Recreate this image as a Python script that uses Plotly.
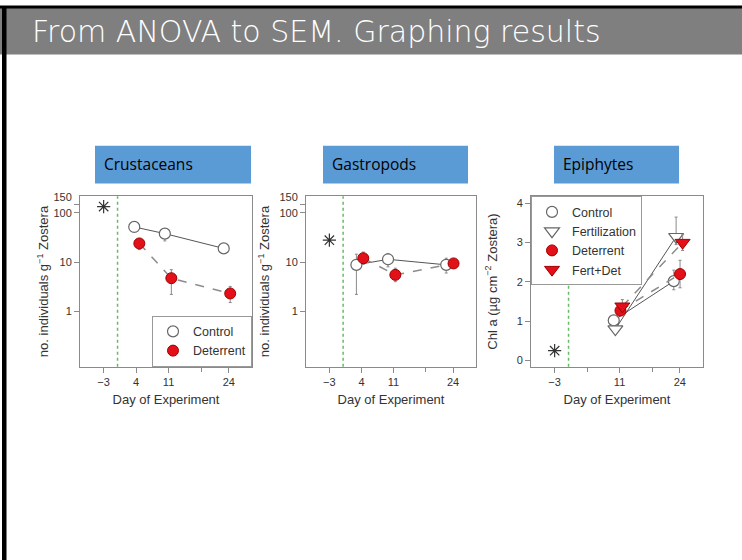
import plotly.graph_objects as go

# ---------------- data ----------------
tick_days_log = [-3, 4, 11, 24]
tick_text_log = ["\u22123", "4", "11", "24"]
minor_days_log = [18]
tick_days_epi = [-3, 11, 24]
tick_text_epi = ["\u22123", "11", "24"]
minor_days_epi = [4, 18]
treatment_start_day = 0
pre_day = [-3]

log_tickvals = [1, 10, 100, 150]
log_ticktext = ["1", "10", "100", "150<br>&nbsp;"]
lin_tickvals = [0, 1, 2, 3, 4]

# Crustaceans
crus_pre = [135]
crus_ctrl_x = [3.6, 10.2, 22.9]
crus_ctrl_y = [52, 38, 19]
crus_ctrl_hi = [57, 46, 21]
crus_ctrl_lo = [47, 27, 17]
crus_det_x = [4.7, 11.6, 24.3]
crus_det_y = [24, 4.7, 2.3]
crus_det_hi = [30, 7.0, 3.2]
crus_det_lo = [18, 2.2, 1.5]

# Gastropods
gast_pre = [28]
gast_ctrl_x = [2.9, 9.8, 22.5]
gast_ctrl_y = [8.8, 11.4, 8.8]
gast_ctrl_hi = [14.5, 15, 12]
gast_ctrl_lo = [2.2, 8, 6]
gast_det_x = [4.4, 11.4, 24.1]
gast_det_y = [12, 5.5, 9.4]
gast_det_hi = [16, 7.5, 10.5]
gast_det_lo = [9, 4, 8.5]

# Epiphytes
epi_pre = [0.25]
epi_ctrl_x = [9.75, 22.7]
epi_ctrl_y = [1.02, 2.02]
epi_ctrl_hi = [1.07, 2.3]
epi_ctrl_lo = [0.97, 1.8]
epi_fert_x = [10.1, 23.2]
epi_fert_y = [0.80, 3.15]
epi_fert_hi = [0.85, 3.65]
epi_fert_lo = [0.75, 2.95]
epi_det_x = [11.2, 24.05]
epi_det_y = [1.27, 2.2]
epi_det_hi = [1.40, 2.55]
epi_det_lo = [1.15, 1.85]
epi_fd_x = [11.6, 24.6]
epi_fd_y = [1.38, 3.0]
epi_fd_hi = [1.55, 3.2]
epi_fd_lo = [1.30, 2.8]

panel_titles = ["Crustaceans", "Gastropods", "Epiphytes"]
slide_title = "From ANOVA to SEM. Graphing results"

# ---------------- styling ----------------
W, H = 742, 560
FONT = "Liberation Sans, Arial, sans-serif"
RED = "#e3101a"
GREY_LINE = "#555555"
ERR = "#8a8a8a"


def px(x):
    return x / W


def py(y):
    return 1 - y / H


def err(y, hi, lo):
    return dict(type="data", symmetric=False,
                array=[h - v for v, h in zip(y, hi)],
                arrayminus=[v - l for v, l in zip(y, lo)],
                color=ERR, thickness=1, width=1.5)


open_circle = dict(symbol="circle", size=11, color="white",
                   line=dict(color="#666666", width=1.2))
red_circle = dict(symbol="circle", size=11, color=RED,
                  line=dict(color="#a00000", width=1))
open_tri = dict(symbol="triangle-down", size=13, color="white",
                line=dict(color="#666666", width=1.2))
red_tri = dict(symbol="triangle-down", size=13, color=RED,
               line=dict(color="#a00000", width=1))
solid_line = dict(color=GREY_LINE, width=1)
dash_line = dict(color="#8c8c8c", width=1.5, dash="dash")

fig = go.Figure()


def add_series(xa, ya, x, y, hi, lo, marker, line, name, legend, showlegend):
    fig.add_trace(go.Scatter(x=x, y=y, mode="lines", line=line,
                             xaxis=xa, yaxis=ya, showlegend=False,
                             hoverinfo="skip"))
    fig.add_trace(go.Scatter(x=x, y=y, mode="markers", marker=marker,
                             error_y=err(y, hi, lo), name=name,
                             xaxis=xa, yaxis=ya, legend=legend,
                             showlegend=showlegend))


def add_pre(xa, ya, yv):
    fig.add_trace(go.Scatter(x=pre_day, y=yv, mode="markers",
                             marker=dict(symbol="asterisk-open", size=11,
                                         color="#333333",
                                         line=dict(color="#333333", width=1.2)),
                             xaxis=xa, yaxis=ya, showlegend=False))


# panel 1
add_pre("x", "y", crus_pre)
add_series("x", "y", crus_ctrl_x, crus_ctrl_y, crus_ctrl_hi, crus_ctrl_lo,
           open_circle, solid_line, "Control", "legend", True)
add_series("x", "y", crus_det_x, crus_det_y, crus_det_hi, crus_det_lo,
           red_circle, dash_line, "Deterrent", "legend", True)
# panel 2
add_pre("x2", "y2", gast_pre)
add_series("x2", "y2", gast_ctrl_x, gast_ctrl_y, gast_ctrl_hi, gast_ctrl_lo,
           open_circle, solid_line, "Control", "legend", False)
add_series("x2", "y2", gast_det_x, gast_det_y, gast_det_hi, gast_det_lo,
           red_circle, dash_line, "Deterrent", "legend", False)
# panel 3
add_pre("x3", "y3", epi_pre)
add_series("x3", "y3", epi_ctrl_x, epi_ctrl_y, epi_ctrl_hi, epi_ctrl_lo,
           open_circle, solid_line, "Control", "legend2", True)
add_series("x3", "y3", epi_fert_x, epi_fert_y, epi_fert_hi, epi_fert_lo,
           open_tri, solid_line, "Fertilization", "legend2", True)
add_series("x3", "y3", epi_det_x, epi_det_y, epi_det_hi, epi_det_lo,
           red_circle, dash_line, "Deterrent", "legend2", True)
add_series("x3", "y3", epi_fd_x, epi_fd_y, epi_fd_hi, epi_fd_lo,
           red_tri, dash_line, "Fert+Det", "legend2", True)

axis_common = dict(showline=True, mirror=True, linecolor="#8a8a8a", linewidth=1,
                   ticks="outside", ticklen=5, tickcolor="#8a8a8a",
                   showgrid=False, zeroline=False,
                   tickfont=dict(family=FONT, size=11, color="#333333"))

ybot, ytop = py(365), py(193)
domains = [(px(80), px(252)), (px(306), px(476)), (px(531), px(703))]
xrange_ = [-8.1, 29.0]

layout = dict(
    width=W, height=H, margin=dict(l=0, r=0, t=0, b=0),
    paper_bgcolor="white", plot_bgcolor="white",
    font=dict(family=FONT, color="#333333"),
)
for i, (d0, d1) in enumerate(domains):
    sfx = "" if i == 0 else str(i + 1)
    epi = i == 2
    layout["xaxis" + sfx] = dict(
        axis_common, domain=[d0, d1], range=xrange_,
        anchor="y" + sfx,
        tickvals=tick_days_epi if epi else tick_days_log,
        ticktext=tick_text_epi if epi else tick_text_log,
        minor=dict(tickvals=minor_days_epi if epi else minor_days_log,
                   ticks="outside", ticklen=4, tickcolor="#8a8a8a"),
        title=dict(text="Day of Experiment", standoff=7,
                   font=dict(family=FONT, size=13, color="#333333")))
    if not epi:
        ytitle = "no. individuals g<sup>\u22121</sup> Zostera"
        layout["yaxis" + sfx] = dict(
            axis_common, domain=[ybot, ytop], type="log",
            range=[-1.13, 2.34], anchor="x" + sfx,
            tickvals=log_tickvals, ticktext=log_ticktext,
            title=dict(text=ytitle, standoff=1 if i == 0 else 6,
                       font=dict(family=FONT, size=13, color="#333333")))
    else:
        ytitle = "Chl a (\u00b5g cm<sup>\u22122</sup> Zostera)"
        layout["yaxis" + sfx] = dict(
            axis_common, domain=[ybot, ytop], range=[-0.16, 4.18],
            anchor="x" + sfx, tickvals=lin_tickvals,
            title=dict(text=ytitle, standoff=16,
                       font=dict(family=FONT, size=13, color="#333333")))

layout["legend"] = dict(x=px(252), xanchor="right", y=py(365), yanchor="bottom",
                        bgcolor="white", bordercolor="#999999", borderwidth=1,
                        font=dict(family=FONT, size=12.5, color="#333333"),
                        itemwidth=30, tracegroupgap=0)
layout["legend2"] = dict(x=px(531), xanchor="left", y=py(193), yanchor="top",
                         bgcolor="white", bordercolor="#999999", borderwidth=1,
                         font=dict(family=FONT, size=12.5, color="#333333"),
                         itemwidth=30, tracegroupgap=0)

shapes = []
# slide decoration
shapes.append(dict(type="rect", xref="paper", yref="paper", x0=0, x1=1,
                   y0=py(50), y1=1, fillcolor="#7f7f7f", line=dict(width=0),
                   layer="below"))
shapes.append(dict(type="rect", xref="paper", yref="paper", x0=0, x1=1,
                   y0=py(3.5), y1=py(1), fillcolor="#000000", line=dict(width=0)))
shapes.append(dict(type="rect", xref="paper", yref="paper", x0=px(2), x1=px(6.5),
                   y0=0, y1=py(1), fillcolor="#000000", line=dict(width=0)))
# blue label boxes
boxes = [(95, 251), (323, 468), (554, 679)]
annotations = []
for (b0, b1), txt in zip(boxes, panel_titles):
    shapes.append(dict(type="rect", xref="paper", yref="paper",
                       x0=px(b0), x1=px(b1), y0=py(180), y1=py(142),
                       fillcolor="#5b9bd5", line=dict(width=0)))
    annotations.append(dict(xref="paper", yref="paper", x=px(b0 + 7), y=py(160),
                            xanchor="left", yanchor="middle", showarrow=False,
                            text=txt, font=dict(family="Open Sans, sans-serif",
                                                size=15.5, color="black")))
# treatment start dotted lines
for sfx in ["", "2", "3"]:
    shapes.append(dict(type="line", xref="x" + sfx, yref="y" + sfx + " domain",
                       x0=treatment_start_day, x1=treatment_start_day, y0=0, y1=1,
                       line=dict(color="#66bb66", width=1.5, dash="dot"),
                       layer="below"))

annotations.append(dict(xref="paper", yref="paper", x=px(30), y=py(27),
                        xanchor="left", yanchor="middle", showarrow=False,
                        text=slide_title,
                        font=dict(family="DejaVu Sans, sans-serif", size=30,
                                  color="white", weight=300)))

layout["shapes"] = shapes
layout["annotations"] = annotations
fig.update_layout(**layout)

fig.write_html("out.html", config={"displayModeBar": False},
               post_script="document.body.style.margin='0px';"
                           "document.body.style.overflow='hidden';")
